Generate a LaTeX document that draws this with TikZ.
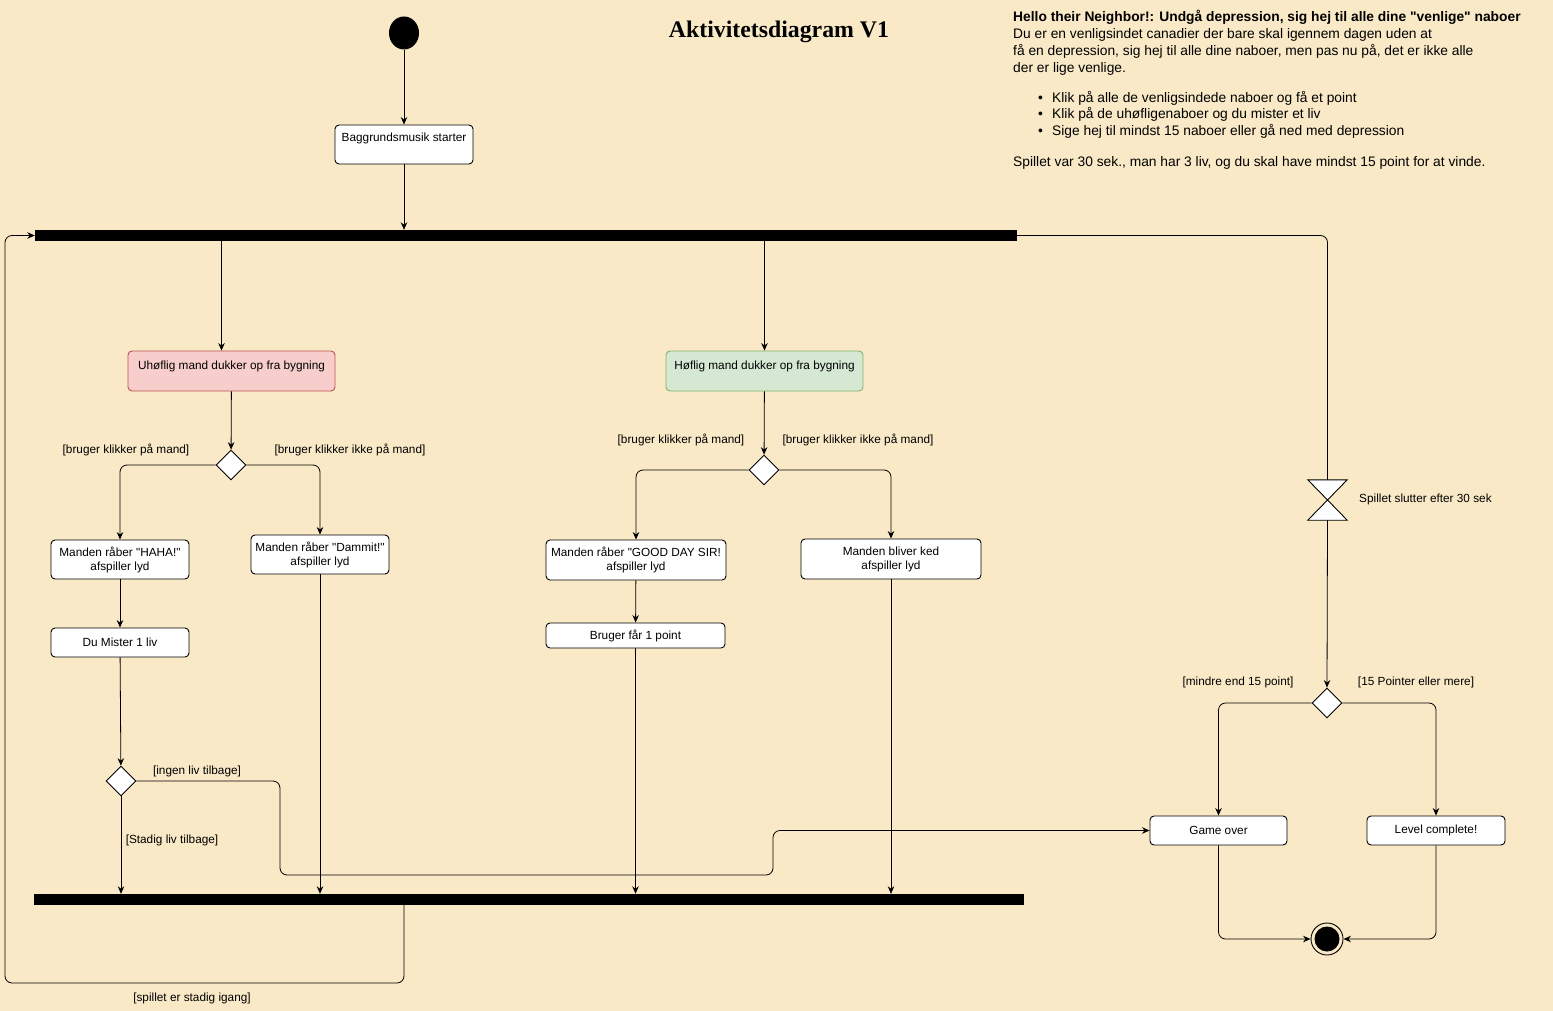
\documentclass[tikz,border=0pt]{standalone}
\usepackage{fontspec}
\setmainfont{Liberation Sans}[Ligatures=TeXOff]
\newfontfamily\titlefont{Liberation Serif}
\usetikzlibrary{arrows.meta,shapes.geometric}
\definecolor{bgc}{RGB}{249,233,199}
\definecolor{redfill}{HTML}{F8CECC}
\definecolor{redline}{HTML}{B85450}
\definecolor{greenfill}{HTML}{D5E8D4}
\definecolor{greenline}{HTML}{82B366}
\begin{document}
\begin{tikzpicture}[x=1pt,y=-1pt,
  every node/.style={font=\fontsize{11.8}{14}\selectfont},
  box/.style={draw, fill=white, rounded corners=4pt, line width=0.9pt, align=center, inner sep=0pt},
  dec/.style={draw, fill=white, diamond, aspect=1, minimum width=30pt, minimum height=30pt, inner sep=0pt, line width=0.9pt},
  bar/.style={fill=black, inner sep=0pt},
  arr/.style={-{Stealth[length=7.5pt,width=6.5pt]}, line width=0.8pt},
  ln/.style={line width=0.8pt},
  guard/.style={inner sep=0pt},
  desc/.style={anchor=base west, inner sep=0pt, font=\fontsize{13.8}{17}\selectfont},
  ]
\fill[bgc] (0,0) rectangle (1553,1011);
\useasboundingbox (0,0) rectangle (1553,1011);

% title
\node[font=\titlefont\bfseries\fontsize{23.8}{28}\selectfont] (title) at (779,32) {Aktivitetsdiagram V1};

% description
\node[desc] (t1) at (1013,21.5) {\textbf{Hello their Neighbor!: Undgå depression, sig hej til alle dine "venlige" naboer}};
\node[desc] (t2) at (1013,38.5) {Du er en venligsindet canadier der bare skal igennem dagen uden at};
\node[desc] (t3) at (1013,55.5) {få en depression, sig hej til alle dine naboer, men pas nu på, det er ikke alle};
\node[desc] (t4) at (1013,72.5) {der er lige venlige.};
\node[desc] (b1) at (1038,102.5) {•};
\node[desc] (t5) at (1052,102.5) {Klik på alle de venligsindede naboer og få et point};
\node[desc] (b2) at (1038,118.5) {•};
\node[desc] (t6) at (1052,118.5) {Klik på de uhøfligenaboer og du mister et liv};
\node[desc] (b3) at (1038,135.5) {•};
\node[desc] (t7) at (1052,135.5) {Sige hej til mindst 15 naboer eller gå ned med depression};
\node[desc] (t8) at (1013,166.5) {Spillet var 30 sek., man har 3 liv, og du skal have mindst 15 point for at vinde.};

% nodes
\node[ellipse, fill=black, minimum width=30pt, minimum height=33pt, inner sep=0pt] (start) at (404,33) {};
\node[box, minimum width=138pt, text height=17pt, text depth=22pt] (bg) at (404,144.5) {Baggrundsmusik starter};
\node[bar, minimum width=982pt, minimum height=11pt] (fork1) at (526,235.5) {};

\node[box, fill=redfill, draw=redline, minimum width=207pt, text height=18pt, text depth=22pt] (uh) at (231.5,371) {Uhøflig mand dukker op fra bygning};
\node[box, fill=greenfill, draw=greenline, minimum width=197pt, text height=18pt, text depth=22pt] (hof) at (764.5,371) {Høflig mand dukker op fra bygning};

\node[dec] (d1) at (231,465) {};
\node[guard] (g1) at (126,450) {[bruger klikker på mand]};
\node[guard] (g2) at (350,450) {[bruger klikker ikke på mand]};

\node[box, minimum width=138pt, minimum height=39pt] (haha) at (120,559.5) {Manden råber "HAHA!"\\afspiller lyd};
\node[box, minimum width=138pt, minimum height=39pt] (dam) at (320,554.5) {Manden råber "Dammit!"\\afspiller lyd};
\node[box, minimum width=138pt, minimum height=29pt] (liv) at (120,642.5) {Du Mister 1 liv};

\node[dec] (d2) at (121,781) {};
\node[guard] (g3) at (197,771) {[ingen liv tilbage]};
\node[guard] (g4) at (172,840) {[Stadig liv tilbage]};

\node[bar, minimum width=990pt, minimum height=11pt] (fork2) at (529,899.5) {};

\node[dec] (d3) at (764,470) {};
\node[guard] (g5) at (681,440) {[bruger klikker på mand]};
\node[guard] (g6) at (858,440) {[bruger klikker ikke på mand]};

\node[box, minimum width=180pt, minimum height=40pt] (good) at (636,560) {Manden råber "GOOD DAY SIR!\\afspiller lyd};
\node[box, minimum width=180pt, minimum height=40pt] (ked) at (891,559) {Manden bliver ked\\afspiller lyd};
\node[box, minimum width=179pt, minimum height=25pt] (pt) at (635.5,635.5) {Bruger får 1 point};

\node[minimum width=39pt, minimum height=40pt, inner sep=0pt] (hg) at (1327.5,500) {};
\fill[white, draw=black, line width=0.9pt, line join=miter] (hg.north west) -- (hg.north east) -- (hg.south west) -- (hg.south east) -- cycle;
\node[guard, anchor=west] (g7) at (1359,499) {Spillet slutter efter 30 sek};

\node[dec] (d4) at (1327,703) {};
\node[guard] (g8) at (1238,682) {[mindre end 15 point]};
\node[guard] (g9) at (1416,682) {[15 Pointer eller mere]};

\node[box, minimum width=137pt, minimum height=29pt] (go) at (1218.5,830.5) {Game over};
\node[box, minimum width=138pt, minimum height=29pt] (lc) at (1436,830.5) {Level complete!};

\node[circle, draw, line width=0.9pt, minimum size=32pt, inner sep=0pt] (end) at (1327,939) {};
\fill[black] (end.center) circle[radius=12.5pt];

\node[guard] (g10) at (192,998) {[spillet er stadig igang]};

\coordinate (lp) at (5,983);
\coordinate (k1) at (280,875);
\coordinate (k2) at (773,830.5);

% connectors
\draw[arr] (start) -- (bg);
\draw[arr] (bg) -- (bg |- fork1.north);
\draw[arr] ([xshift=-10pt]uh.north |- fork1.south) -- ([xshift=-10pt]uh.north);
\draw[arr] (hof.north |- fork1.south) -- (hof.north);
\draw[ln, rounded corners=7pt] (fork1.east) -| (hg.north);
\draw[arr, rounded corners=7pt] (fork2.south -| bg.south) |- (lp) |- (fork1.west);

\draw[arr] (uh) -- (d1);
\draw[arr, rounded corners=7pt] (d1.west) -| (haha.north);
\draw[arr, rounded corners=7pt] (d1.east) -| (dam.north);
\draw[arr] (haha) -- (liv);
\draw[arr] (liv) -- (d2);
\draw[arr] (d2.south) -- (d2.south |- fork2.north);
\draw[arr, rounded corners=7pt] (d2.east) -| (k1) -| (k2) -- (go.west);
\draw[arr] (dam.south) -- (dam.south |- fork2.north);

\draw[arr] (hof) -- (d3);
\draw[arr, rounded corners=7pt] (d3.west) -| (good.north);
\draw[arr, rounded corners=7pt] (d3.east) -| (ked.north);
\draw[arr] (good) -- (pt);
\draw[arr] (pt.south) -- (pt.south |- fork2.north);
\draw[arr] (ked.south) -- (ked.south |- fork2.north);

\draw[arr] (hg.south) -- (d4.north);
\draw[arr, rounded corners=7pt] (d4.west) -| (go.north);
\draw[arr, rounded corners=7pt] (d4.east) -| (lc.north);
\draw[arr, rounded corners=7pt] (go.south) |- (end.west);
\draw[arr, rounded corners=7pt] (lc.south) |- (end.east);
\end{tikzpicture}
\end{document}
